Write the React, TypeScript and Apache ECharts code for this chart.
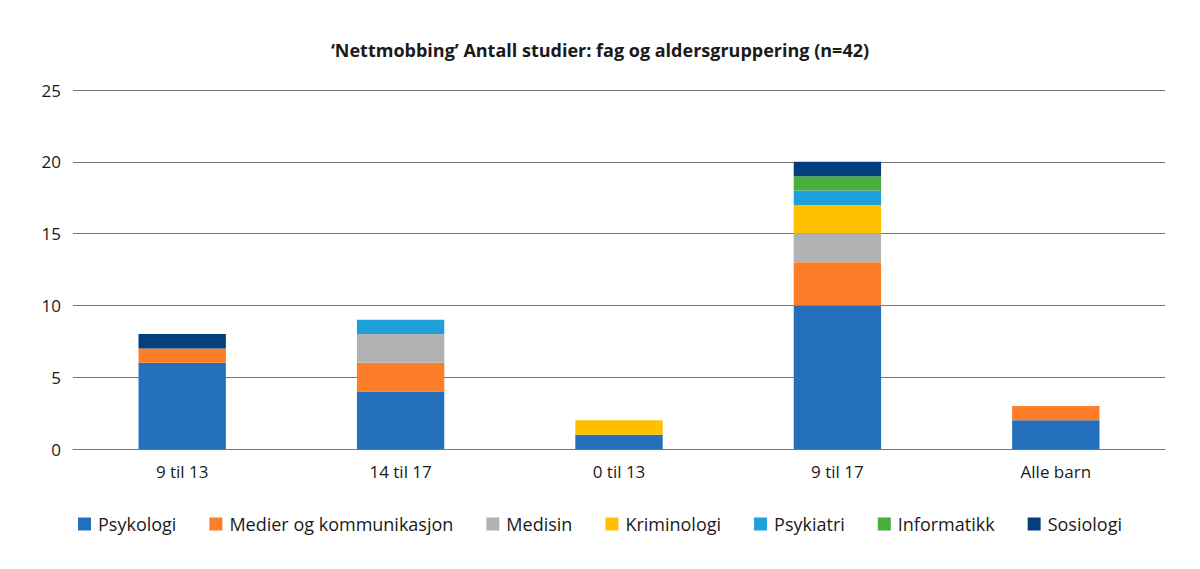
import React, { useEffect, useRef } from "react";
import * as echarts from "echarts";

const categories = ["9 til 13", "14 til 17", "0 til 13", "9 til 17", "Alle barn"];
const seriesNames = ["Psykologi", "Medier og kommunikasjon", "Medisin", "Kriminologi", "Psykiatri", "Informatikk", "Sosiologi"];
const psykologi = [6, 4, 1, 10, 2];
const medier = [1, 2, 0, 3, 1];
const medisin = [0, 2, 0, 2, 0];
const kriminologi = [0, 0, 1, 2, 0];
const psykiatri = [0, 1, 0, 1, 0];
const informatikk = [0, 0, 0, 1, 0];
const sosiologi = [1, 0, 0, 1, 0];
const colors = ["#2470bc", "#fd7e28", "#b2b2b2", "#ffc000", "#1fa0da", "#49af3c", "#023f7c"];
const title = "‘Nettmobbing’ Antall studier: fag og aldersgruppering (n=42)";

export default function App() {
  const ref = useRef<HTMLDivElement>(null);
  useEffect(() => {
    document.body.style.margin = "0";
    const chart = echarts.init(ref.current!, null, { renderer: "svg" });
    const values = [psykologi, medier, medisin, kriminologi, psykiatri, informatikk, sosiologi];
    const font = "'Open Sans', 'Noto Sans', sans-serif";
    chart.setOption({
      animation: false,
      color: colors,
      title: {
        text: title,
        left: "center",
        top: 36,
        textStyle: { fontFamily: font, fontSize: 18, fontWeight: "bold", color: "#1a1a1a" },
      },
      legend: {
        top: 510,
        left: "center",
        itemWidth: 13,
        itemHeight: 13,
        itemGap: 33,
        icon: "rect",
        textStyle: { fontFamily: font, fontSize: 18, color: "#1a1a1a", padding: [0, 0, 0, 2] },
        data: seriesNames,
      },
      grid: { left: 73, right: 35, top: 90, bottom: 120, containLabel: false },
      xAxis: {
        type: "category",
        data: categories,
        axisTick: { show: false },
        axisLine: { lineStyle: { color: "#777" } },
        axisLabel: { fontFamily: font, fontSize: 17, color: "#1a1a1a", margin: 14 },
      },
      yAxis: {
        type: "value",
        min: 0,
        max: 25,
        interval: 5,
        axisLabel: { fontFamily: font, fontSize: 17, color: "#1a1a1a", margin: 12 },
        splitLine: { lineStyle: { color: "#777", width: 1 } },
      },
      series: seriesNames.map((name, i) => ({
        name,
        type: "bar",
        stack: "total",
        barWidth: "40%",
        data: values[i].map((v) => (v === 0 ? null : v)),
      })),
    });
    return () => chart.dispose();
  }, []);
  return <div ref={ref} style={{ width: 1200, height: 569 }} />;
}
